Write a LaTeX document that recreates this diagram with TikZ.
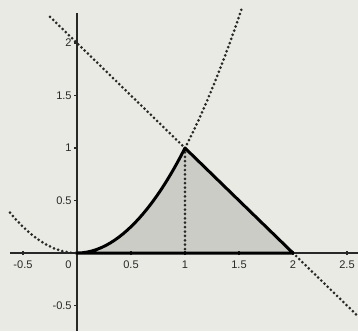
\documentclass[tikz,border=0pt]{standalone}
\usepackage{fontspec}
\setmainfont{Liberation Sans}
\definecolor{paper}{RGB}{234,234,228}
\definecolor{shadegray}{RGB}{204,204,199}
\definecolor{ink}{RGB}{40,40,40}
\begin{document}
\begin{tikzpicture}[x=2.16cm,y=2.1cm,
  axis/.style={line width=0.7pt, draw=ink},
  dotline/.style={line width=1.7pt, dash pattern=on 0pt off 2.5pt, line cap=round, draw=ink},
  bound/.style={line width=1.7pt, draw=black, line join=round},
  tick/.style={line width=0.7pt, draw=ink},
  lab/.style={font=\fontsize{6.3}{7}\selectfont, text=ink, inner sep=1pt}]
\useasboundingbox[fill=paper] (-0.713,-0.743) rectangle (2.602,2.410);
% named points
\coordinate (O) at (0,0);
\coordinate (A) at (1,1);
\coordinate (B) at (2,0);
\coordinate (Afoot) at (1,0);
\coordinate (Lstart) at (-0.25,2.25);
\coordinate (Lend) at (2.6,-0.6);
\coordinate (Xl) at (-0.62,0);
\coordinate (Xr) at (2.602,0);
\coordinate (Yb) at (0,-0.743);
\coordinate (Yt) at (0,2.29);
% shaded region
\fill[shadegray] (O) parabola (A) -- (B) -- cycle;
% axes
\draw[axis] (Xl) -- (Xr);
\draw[axis] (Yb) -- (Yt);
% ticks
\foreach \t in {-0.5,0.5,1,1.5,2,2.5} \draw[tick] (\t,-0.02) -- (\t,0.02);
\foreach \t in {-0.5,0.5,1,1.5,2} \draw[tick] (-0.025,\t) -- (0,\t);
% dotted curves
\draw[dotline] plot[domain=-0.62:0, samples=30] (\x,{\x*\x});
\draw[dotline] plot[domain=1:1.53, samples=30] (\x,{\x*\x});
\draw[dotline] (Lstart) -- (A);
\draw[dotline] (B) -- (Lend);
\draw[dotline] (A) -- (Afoot);
% boundary
\draw[bound] (O) parabola (A) -- (B) -- cycle;
% labels
\foreach \t/\s in {-0.5/-0.5,0.5/0.5,1/1,1.5/1.5,2/2,2.5/2.5}
  \node[lab, anchor=north] (xl\s) at (\t,-0.05) {\s};
\node[lab, anchor=north east] (xl0) at (-0.03,-0.05) {0};
\foreach \t/\s in {-0.5/-0.5,0.5/0.5,1/1,1.5/1.5,2/2}
  \node[lab, anchor=east] (yl\s) at (-0.03,\t) {\s};
\end{tikzpicture}
\end{document}
